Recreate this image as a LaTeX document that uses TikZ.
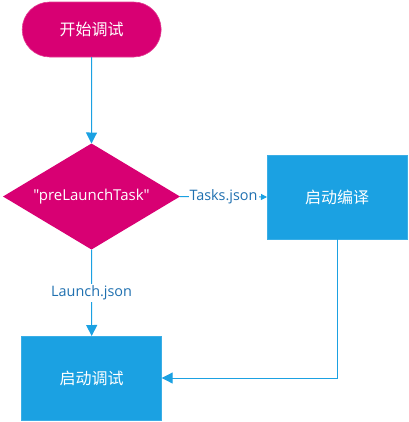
\documentclass[tikz,border=0pt]{standalone}
\usepackage{fontspec}
\setmainfont{Open Sans}
\newfontfamily\qfont{Open Sans}[Ligatures=TeXOff]
\newfontfamily\cjk{Noto Sans CJK SC}
\usetikzlibrary{shapes.geometric,arrows.meta}
\definecolor{mag}{HTML}{D80073}
\definecolor{magline}{HTML}{E23D92}
\definecolor{cyanfill}{HTML}{1BA1E2}
\definecolor{cyanline}{HTML}{3AAEE6}
\definecolor{conn}{HTML}{1BA1E2}
\definecolor{lbl}{HTML}{1F70B0}
\tikzset{
  every node/.style={inner sep=0pt, outer sep=0pt},
  startbox/.style={rectangle, rounded corners=27.5bp, fill=mag, draw=magline, line width=0.6bp,
    minimum width=139bp, minimum height=55bp, text=white, font=\cjk\fontsize{16bp}{19bp}\selectfont},
  decbox/.style={diamond, aspect=1.67, fill=mag, minimum width=177bp, minimum height=106bp,
    text=white, font=\qfont\fontsize{15bp}{18bp}\selectfont},
  procbox/.style={rectangle, fill=cyanfill, draw=cyanline, line width=0.6bp,
    minimum width=140bp, minimum height=84bp, text=white, font=\cjk\fontsize{16bp}{19bp}\selectfont},
  conline/.style={draw=conn, line width=1bp, -{Triangle[length=11bp,width=11bp]}},
  smallline/.style={draw=conn, line width=1bp, -{Triangle[length=6bp,width=6bp]}},
  lab/.style={fill=white, text=lbl, font=\fontsize{14.4bp}{17bp}\selectfont, inner xsep=1bp, inner ysep=2bp}
}
\begin{document}
\begin{tikzpicture}[x=1bp,y=-1bp]
\useasboundingbox (0,0) rectangle (409,422);
\node[startbox] (start) at (91.7,29.5) {开始调试};
\node[decbox] (dec) at (91.5,196.5) {"preLaunchTask"};
\node[procbox] (comp) at (337,197) {启动编译};
\node[procbox] (dbg) at (91.7,378) {启动调试};
\draw[conline] (start.south) -- (dec.north);
\draw[smallline] (dec.east) -- node[lab] {Tasks.json} (comp.west);
\draw[conline] (dec.south) -- node[lab] {Launch.json} (dbg.north);
\draw[conline] (comp.south) |- (dbg.east);
\end{tikzpicture}
\end{document}
